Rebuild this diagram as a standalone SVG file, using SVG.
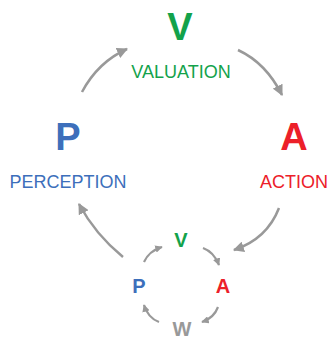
<svg xmlns="http://www.w3.org/2000/svg" width="330" height="339" viewBox="0 0 330 339">
<defs>
<marker id="ah" viewBox="0 0 10 10" refX="9" refY="5" markerWidth="11" markerHeight="11" markerUnits="userSpaceOnUse" orient="auto">
<path d="M0,0 L10,5 L0,10 z" fill="#999"/>
</marker>
<marker id="ahs" viewBox="0 0 10 10" refX="9" refY="5" markerWidth="7.5" markerHeight="7.5" markerUnits="userSpaceOnUse" orient="auto">
<path d="M0,0 L10,5 L0,10 z" fill="#999"/>
</marker>
</defs>
<style>
.big{font-family:"Liberation Sans",Arial,sans-serif;font-weight:bold;font-size:38px;text-anchor:middle}
.lbl{font-family:"Liberation Sans",Arial,sans-serif;font-size:18px;text-anchor:middle}
.sm{font-family:"Liberation Sans",Arial,sans-serif;font-weight:bold;font-size:20px;text-anchor:middle}
.g{fill:#13a24b}.b{fill:#3d6fbb}.r{fill:#ec2029}.w{fill:#999}
.c{fill:none;stroke:#999;stroke-width:2.5;marker-end:url(#ah)}
.cs{fill:none;stroke:#999;stroke-width:2.2;marker-end:url(#ahs)}
</style>
<g id="connectors">
<path class="c" d="M82,92 Q98,62 127,49"/>
<path class="c" d="M238,50 Q266,63 282,95"/>
<path class="c" d="M279,208 Q267,239 234,250"/>
<path class="c" d="M123,257 Q95,234 79,204"/>
<path class="cs" d="M144,262 Q149,251 162,247"/>
<path class="cs" d="M203,248 Q214,252 219,265"/>
<path class="cs" d="M218,307 Q214,318 202,322"/>
<path class="cs" d="M159,322 Q148,318 144,305"/>
</g>
<g id="valuation"><text class="big g" x="180" y="40">V</text><text class="lbl g" x="181" y="78">VALUATION</text></g>
<g id="perception"><text class="big b" x="68" y="150">P</text><text class="lbl b" x="68" y="188">PERCEPTION</text></g>
<g id="action"><text class="big r" x="294" y="150">A</text><text class="lbl r" x="294" y="188">ACTION</text></g>
<g id="small-v"><text class="sm g" x="181" y="247">V</text></g>
<g id="small-p"><text class="sm b" x="139" y="293">P</text></g>
<g id="small-a"><text class="sm r" x="223" y="293">A</text></g>
<g id="small-w"><text class="sm w" x="182" y="336">W</text></g>
</svg>
